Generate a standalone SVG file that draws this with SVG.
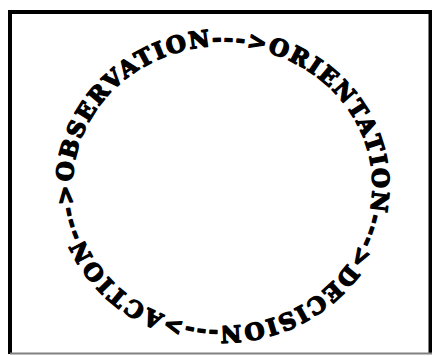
<svg xmlns="http://www.w3.org/2000/svg" xmlns:xlink="http://www.w3.org/1999/xlink" width="432" height="356" viewBox="0 0 432 356">
  <style>
    .frame { stroke: #000; stroke-width: 4; fill: none; }
    .ring { font-family: "DejaVu Serif", "Liberation Serif", serif; font-weight: bold; font-size: 23px; fill: #000; stroke: #000; stroke-width: 1.4; stroke-linejoin: round; }
  </style>
  <defs>
    <path id="loop" d="M 72.5,186 A 150,140 0 1 1 372.5,186 A 150,140 0 1 1 72.5,186"/>
  </defs>
  <rect x="0" y="0" width="432" height="356" fill="#fff"/>
  <g id="frame">
    <line class="frame" x1="10" y1="12" x2="432" y2="12"/>
    <line class="frame" x1="10" y1="10" x2="10" y2="354"/>
    <line class="frame" x1="430.5" y1="10" x2="430.5" y2="354" stroke-width="3"/>
    <line x1="10" y1="353.5" x2="432" y2="353.5" stroke="#808080" stroke-width="2"/>
  </g>
  <g id="cycle">
    <text class="ring"><textPath xlink:href="#loop" href="#loop" startOffset="4" textLength="908" lengthAdjust="spacing"><tspan id="observation">OBSERVATION</tspan><tspan class="conn">---&gt;</tspan><tspan id="orientation">ORIENTATION</tspan><tspan class="conn">---&gt;</tspan><tspan id="decision">DECISION</tspan><tspan class="conn">---&gt;</tspan><tspan id="action">ACTION</tspan><tspan class="conn">---&gt;</tspan></textPath></text>
  </g>
</svg>
